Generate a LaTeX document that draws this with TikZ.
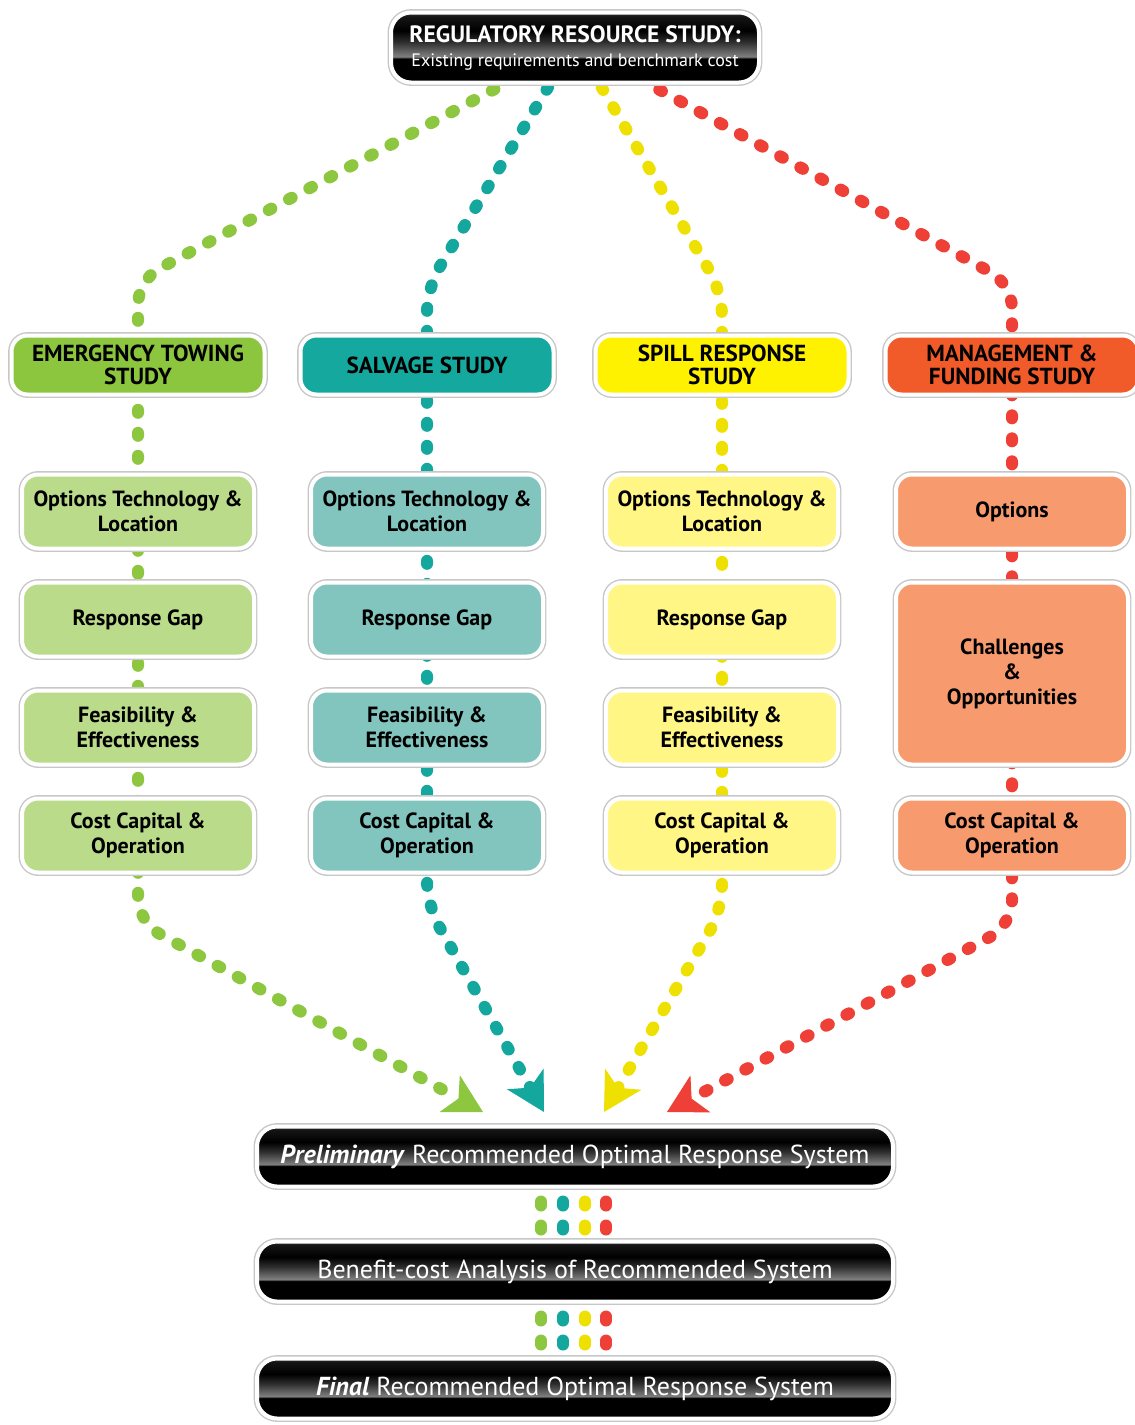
\documentclass[tikz,border=0pt]{standalone}
\usepackage{fontspec}
\setmainfont{PT Sans}
\usetikzlibrary{arrows.meta,positioning,shadows,backgrounds}
\definecolor{towgreen}{HTML}{8CC63F}
\definecolor{towlight}{HTML}{BADB89}
\definecolor{salvteal}{HTML}{14A89E}
\definecolor{salvlight}{HTML}{82C5BF}
\definecolor{spillyellow}{HTML}{FFF200}
\definecolor{spilllight}{HTML}{FFF685}
\definecolor{mgmtred}{HTML}{F15A29}
\definecolor{mgmtlight}{HTML}{F79B6F}
\definecolor{dotgreen}{HTML}{8DC63F}
\definecolor{dotteal}{HTML}{14A79D}
\definecolor{dotyellow}{HTML}{EEE000}
\definecolor{dotred}{HTML}{EE4036}
\pgfdeclareverticalshading{glossblack}{100bp}{color(0bp)=(black); color(25bp)=(black);
  color(42bp)=(black); color(43.5bp)=(black!50); color(54bp)=(black!82);
  color(62bp)=(black); color(72bp)=(black!92); color(75bp)=(black!80);
  color(100bp)=(black!80)}
\tikzset{
  boxshadow/.style={drop shadow={shadow xshift=0.5pt,shadow yshift=-1.2pt,
      opacity=.3,fill=black!60},
    preaction={draw=black!22,line width=3.4pt}},
  studybox/.style={draw=white,line width=2pt,rounded corners=8pt,boxshadow,
    minimum width=126.5pt,minimum height=29.5pt,align=center,
    font=\bfseries\fontsize{11.6}{11.5}\selectfont},
  stepbox/.style={draw=white,line width=2pt,rounded corners=8pt,boxshadow,
    minimum width=116pt,minimum height=37pt,align=center,
    font=\bfseries\fontsize{11}{12.5}\selectfont},
  sysbox/.style={draw=white,line width=2pt,rounded corners=10pt,boxshadow,
    shading=glossblack,text=white,minimum width=318pt,minimum height=30pt,
    font=\fontsize{13}{16}\selectfont},
  dotline/.style={line width=6pt,line cap=round,dash pattern=on 1.5pt off 10pt},
  studyarrow/.style={dotline,rounded corners=12pt,
    -{Stealth[length=19pt,width=21pt,inset=5pt,line width=0.5pt]}},
  pairdots/.style={line width=6pt,line cap=round,dash pattern=on 2pt off 10pt,
    dash phase=5.5pt}
}
\begin{document}
\begin{tikzpicture}[x=0.5pt,y=-0.5pt,node distance=15pt]
  \useasboundingbox (0,0) rectangle (1135,1425);

  % top study
  \node[sysbox,minimum width=184pt,minimum height=35pt,align=center,
    font=\fontsize{9}{12}\selectfont] (reg) at (575,47.5)
    {{\bfseries\fontsize{11.8}{12}\selectfont REGULATORY RESOURCE STUDY:}\\
     Existing requirements and benchmark cost};

  % the four studies
  \node[studybox,fill=towgreen] (tow) at (138,365) {EMERGENCY TOWING\\STUDY};
  \node[studybox,fill=salvteal] (salv) at (427,365) {SALVAGE STUDY};
  \node[studybox,fill=spillyellow] (spill) at (722,365) {SPILL RESPONSE\\STUDY};
  \node[studybox,fill=mgmtred] (mgmt) at (1012,365) {MANAGEMENT \&\\FUNDING STUDY};

  \node[stepbox,fill=towlight,below=38pt of tow] (tow1) {Options Technology \&\\Location};
  \node[stepbox,fill=towlight,below=of tow1] (tow2) {Response Gap};
  \node[stepbox,fill=towlight,below=of tow2] (tow3) {Feasibility \&\\Effectiveness};
  \node[stepbox,fill=towlight,below=of tow3] (tow4) {Cost Capital \&\\Operation};

  \node[stepbox,fill=salvlight,below=38pt of salv] (salv1) {Options Technology \&\\Location};
  \node[stepbox,fill=salvlight,below=of salv1] (salv2) {Response Gap};
  \node[stepbox,fill=salvlight,below=of salv2] (salv3) {Feasibility \&\\Effectiveness};
  \node[stepbox,fill=salvlight,below=of salv3] (salv4) {Cost Capital \&\\Operation};

  \node[stepbox,fill=spilllight,below=38pt of spill] (spill1) {Options Technology \&\\Location};
  \node[stepbox,fill=spilllight,below=of spill1] (spill2) {Response Gap};
  \node[stepbox,fill=spilllight,below=of spill2] (spill3) {Feasibility \&\\Effectiveness};
  \node[stepbox,fill=spilllight,below=of spill3] (spill4) {Cost Capital \&\\Operation};

  \node[stepbox,fill=mgmtlight,below=38pt of mgmt] (mgmt1) {Options};
  \node[stepbox,fill=mgmtlight,below=of mgmt1,minimum height=91pt] (mgmt2)
    {Challenges\\\&\\Opportunities};
  \node[stepbox,fill=mgmtlight,below=of mgmt2] (mgmt3) {Cost Capital \&\\Operation};

  % outcome
  \node[sysbox] (prelim) at (575,1156.5)
    {\textbf{\textit{Preliminary}} Recommended Optimal Response System};
  \node[sysbox,below=25.5pt of prelim] (bca) {Benefit-cost Analysis of Recommended System};
  \node[sysbox,below=26.5pt of bca] (final)
    {\textbf{\textit{Final}} Recommended Optimal Response System};

  \coordinate (towbend) at (138,280);
  \coordinate (towkink) at (138,922);
  \coordinate (towtip) at (483,1112);
  \coordinate (salvbend) at (427,288);
  \coordinate (salvkink) at (427,905);
  \coordinate (salvtip) at (544,1112);
  \coordinate (spillbend) at (722,292);
  \coordinate (spillkink) at (722,910);
  \coordinate (spilltip) at (604,1112);
  \coordinate (mgmtbend) at (1012,284);
  \coordinate (mgmtkink) at (1012,925);
  \coordinate (mgmttip) at (667,1112);

  \begin{scope}[on background layer]
    \draw[studyarrow,draw=dotgreen] ([shift={(-40,20)}]reg.center) -- (towbend)
      -- (tow.center) -- (towkink) -- (towtip);
    \draw[studyarrow,draw=dotteal] ([shift={(-15,20)}]reg.center) -- (salvbend)
      -- (salv.center) -- (salvkink) -- (salvtip);
    \draw[studyarrow,draw=dotyellow] ([shift={(15,20)}]reg.center) -- (spillbend)
      -- (spill.center) -- (spillkink) -- (spilltip);
    \draw[studyarrow,draw=dotred] ([shift={(44,20)}]reg.center) -- (mgmtbend)
      -- (mgmt.center) -- (mgmtkink) -- (mgmttip);

    \draw[pairdots,draw=dotgreen] ([xshift=-17pt]prelim.south) -- ([xshift=-17pt]bca.north);
    \draw[pairdots,draw=dotteal] ([xshift=-6pt]prelim.south) -- ([xshift=-6pt]bca.north);
    \draw[pairdots,draw=dotyellow] ([xshift=5pt]prelim.south) -- ([xshift=5pt]bca.north);
    \draw[pairdots,draw=dotred] ([xshift=15.5pt]prelim.south) -- ([xshift=15.5pt]bca.north);
    \draw[pairdots,draw=dotgreen] ([xshift=-17pt]bca.south) -- ([xshift=-17pt]final.north);
    \draw[pairdots,draw=dotteal] ([xshift=-6pt]bca.south) -- ([xshift=-6pt]final.north);
    \draw[pairdots,draw=dotyellow] ([xshift=5pt]bca.south) -- ([xshift=5pt]final.north);
    \draw[pairdots,draw=dotred] ([xshift=15.5pt]bca.south) -- ([xshift=15.5pt]final.north);
  \end{scope}
\end{tikzpicture}
\end{document}
